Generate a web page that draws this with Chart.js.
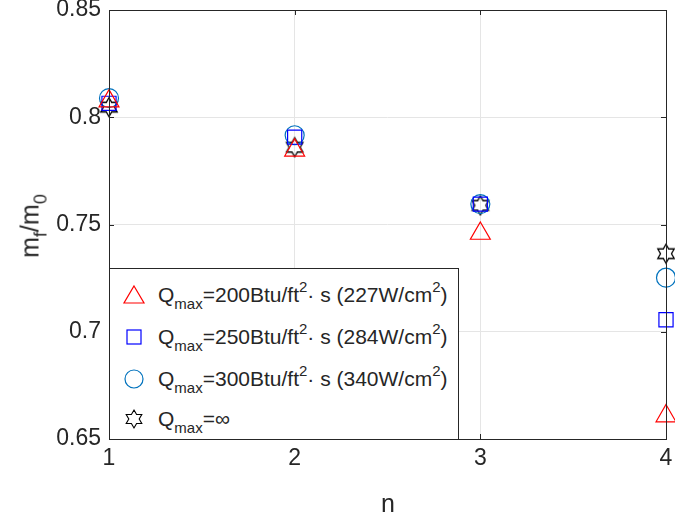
<!DOCTYPE html>
<html>
<head>
<meta charset="utf-8">
<script src="https://cdn.jsdelivr.net/npm/chart.js@4.4.1/dist/chart.umd.min.js"></script>
<style>
  body { margin: 0; background: #fff; }
  #wrap { position: relative; width: 675px; height: 518px; font-family: "Liberation Sans", Arial, sans-serif; color: #262626; }
  #legend { position: absolute; left: 109px; top: 268px; width: 348px; height: 170px; background: #fff; border: 1px solid #262626; font-size: 21px; }
  #legend .row { position: absolute; left: 0; height: 40px; line-height: 40px; white-space: nowrap; }
  #legend svg { position: absolute; left: 12px; top: 9px; }
  #legend .txt { position: absolute; left: 48px; top: 0; }
  sub, sup { font-size: 15px; line-height: 0; }
  sub { vertical-align: -7px; }
  sup { vertical-align: 10px; }
  #ytitle { position: absolute; left: 30px; top: 226px; transform: translate(-50%, -50%) rotate(-90deg); font-size: 25px; white-space: nowrap; }
  #ytitle sub { font-size: 18px; vertical-align: -8px; }
  #xtitle { position: absolute; left: 388px; top: 503px; transform: translate(-50%, -50%); font-size: 25px; }
</style>
</head>
<body>
<div id="wrap">
  <canvas id="c" width="675" height="518"></canvas>
  <div id="ytitle">m<sub>f</sub>/m<sub>0</sub></div>
  <div id="xtitle">n</div>
  <div id="legend">
    <div class="row" style="top:6px"><svg width="24" height="22"><polygon points="12,2 22,19 2,19" fill="none" stroke="#ff0000" stroke-width="1.2"/></svg><span class="txt">Q<sub>max</sub>=200Btu/ft<sup>2</sup>· s (227W/cm<sup>2</sup>)</span></div>
    <div class="row" style="top:48px"><svg width="24" height="22"><rect x="5" y="4" width="14" height="14" fill="none" stroke="#0000ff" stroke-width="1.2"/></svg><span class="txt">Q<sub>max</sub>=250Btu/ft<sup>2</sup>· s (284W/cm<sup>2</sup>)</span></div>
    <div class="row" style="top:90px"><svg width="24" height="22"><circle cx="12" cy="11" r="9" fill="none" stroke="#0072bd" stroke-width="1.2"/></svg><span class="txt">Q<sub>max</sub>=300Btu/ft<sup>2</sup>· s (340W/cm<sup>2</sup>)</span></div>
    <div class="row" style="top:130px"><svg width="24" height="22" id="starsvg"></svg><span class="txt">Q<sub>max</sub>=∞</span></div>
  </div>
</div>
<script>
const n_values = [1, 2, 3, 4];
const q200 = [0.8075, 0.7846, 0.7458, 0.6607];
const q250 = [0.8065, 0.7907, 0.7595, 0.7056];
const q300 = [0.8089, 0.7916, 0.7595, 0.7252];
const qinf = [0.8047, 0.7860, 0.7589, 0.7364];
const y_ticks = [0.65, 0.7, 0.75, 0.8, 0.85];

// hexagram outline points
function starPoints(cx, cy, R) {
    const r = R / Math.sqrt(3);
    const pts = [];
    for (let i = 0; i < 12; i++) {
        const a = -Math.PI / 2 + i * Math.PI / 6;
        const rr = i % 2 === 0 ? R : r;
        pts.push([cx + rr * Math.cos(a), cy + rr * Math.sin(a)]);
    }
    return pts;
}

const star_img = document.createElement('canvas');
star_img.width = 22; star_img.height = 22;
{
    const g = star_img.getContext('2d');
    const pts = starPoints(11, 11, 9.5);
    g.beginPath();
    pts.forEach((p, i) => i ? g.lineTo(p[0], p[1]) : g.moveTo(p[0], p[1]));
    g.closePath();
    g.strokeStyle = '#000';
    g.lineWidth = 1.3;
    g.stroke();
}
document.getElementById('starsvg').innerHTML =
    '<polygon points="' + starPoints(12, 11, 9).map(p => p.join(',')).join(' ') +
    '" fill="none" stroke="#000" stroke-width="1.1"/>';

function pairs(ys) {
    return n_values.map((x, i) => ({x: x, y: ys[i]}));
}

const boxPlugin = {
    id: 'box',
    afterDatasetsDraw(chart) {
        const a = chart.chartArea, ctx = chart.ctx;
        ctx.save();
        ctx.strokeStyle = '#262626';
        ctx.lineWidth = 1;
        ctx.strokeRect(a.left + 0.5, a.top + 0.5, a.right - a.left, a.bottom - a.top);
        ctx.beginPath();
        const xs = chart.scales.x, ys = chart.scales.y;
        n_values.forEach(v => {
            const px = Math.round(xs.getPixelForValue(v)) + 0.5;
            ctx.moveTo(px, a.bottom); ctx.lineTo(px, a.bottom - 5);
            ctx.moveTo(px, a.top); ctx.lineTo(px, a.top + 5);
        });
        y_ticks.forEach(v => {
            const py = Math.round(ys.getPixelForValue(v)) + 0.5;
            ctx.moveTo(a.left, py); ctx.lineTo(a.left + 5, py);
            ctx.moveTo(a.right, py); ctx.lineTo(a.right - 5, py);
        });
        ctx.stroke();
        ctx.restore();
    }
};

new Chart(document.getElementById('c'), {
    type: 'scatter',
    data: {
        datasets: [
            { label: 'Qmax=200', data: pairs(q200), pointStyle: 'triangle', radius: 11.5, borderColor: '#ff0000', backgroundColor: 'transparent', borderWidth: 1.2, clip: false },
            { label: 'Qmax=250', data: pairs(q250), pointStyle: 'rect', radius: 10, borderColor: '#0000ff', backgroundColor: 'transparent', borderWidth: 1.2, clip: false },
            { label: 'Qmax=300', data: pairs(q300), pointStyle: 'circle', radius: 9.5, borderColor: '#0072bd', backgroundColor: 'transparent', borderWidth: 1.2, clip: false },
            { label: 'Qmax=inf', data: pairs(qinf), pointStyle: star_img, radius: 10, borderColor: '#000', backgroundColor: 'transparent', clip: false }
        ]
    },
    options: {
        responsive: false,
        animation: false,
        layout: { autoPadding: false, padding: { top: 10, right: 9, left: 0, bottom: 0 } },
        plugins: { legend: { display: false }, tooltip: { enabled: false } },
        scales: {
            x: {
                type: 'linear', min: 1, max: 4,
                afterFit(s) { s.height = 79; s.paddingRight = 0; s.paddingLeft = 0; },
                afterBuildTicks(s) { s.ticks = n_values.map(v => ({value: v})); },
                grid: { color: '#e5e5e5', drawTicks: false },
                border: { display: false },
                ticks: { padding: 6, color: '#262626', font: { family: 'Liberation Sans', size: 23 } }
            },
            y: {
                min: 0.65, max: 0.85,
                afterFit(s) { s.width = 109; s.paddingTop = 0; s.paddingBottom = 0; },
                afterBuildTicks(s) { s.ticks = y_ticks.map(v => ({value: v})); },
                grid: { color: '#e5e5e5', drawTicks: false },
                border: { display: false },
                ticks: { padding: 8, color: '#262626', font: { family: 'Liberation Sans', size: 23 }, callback: v => String(v) }
            }
        }
    },
    plugins: [boxPlugin]
});
</script>
</body>
</html>
